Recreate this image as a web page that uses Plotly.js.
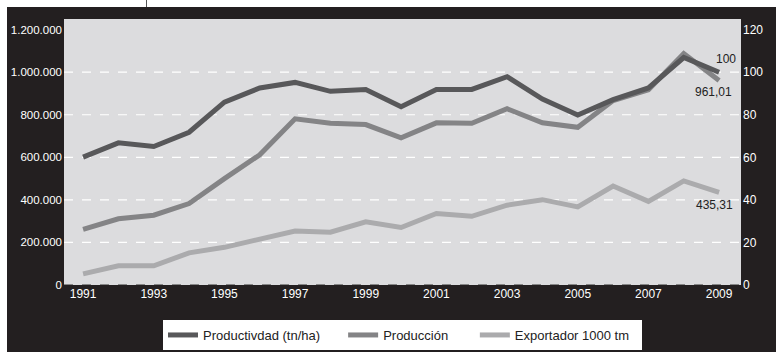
<!DOCTYPE html>
<html><head><meta charset="utf-8">
<script src="https://cdn.plot.ly/plotly-3.0.1.min.js"></script>
<style>
html,body{margin:0;padding:0;background:#fff;width:776px;height:352px;overflow:hidden}
#chart{position:absolute;left:7px;top:7px;width:769px;height:345px}
#mark{position:absolute;left:146px;top:0;width:1px;height:7px;background:#555}
</style></head><body>
<div id="mark"></div><div id="chart"></div>
<script>
const years = [1991,1992,1993,1994,1995,1996,1997,1998,1999,2000,2001,2002,2003,2004,2005,2006,2007,2008,2009];
// Productividad index (right axis)
const productividad = [60.1,66.8,65.1,71.8,85.9,92.6,95.2,91.0,91.9,83.8,91.9,91.9,97.9,87.4,79.9,87.1,92.6,106.9,100];
// Producción (left axis)
const produccion = [261000,311000,328000,383000,500000,612000,781000,760000,754000,692000,762000,760000,828000,762000,741000,867000,917000,1088000,961010];
// Exportador 1000 tm (right axis)
const exportador = [5.2,9.0,9.0,15.1,17.7,21.3,25.4,24.8,29.7,27.0,33.6,32.3,37.5,40.1,36.7,46.5,39.3,48.9,43.531];
const seriesNames = ['Productivdad (tn/ha)','Producción','Exportador 1000 tm'];
const gridVals = [200000,400000,600000,800000,1000000];
const labelTexts = ['100','961,01','435,31'];

const font = '"Liberation Sans", Arial, sans-serif';
const nb = k => '\u00A0'.repeat(k);
const pads = [nb(5), nb(6), nb(2)];

const traces = [
  {x: years, y: productividad, name: seriesNames[0] + pads[0], yaxis: 'y2', mode: 'lines',
   line: {color: '#58585a', width: 5}},
  {x: years, y: produccion, name: seriesNames[1] + pads[1], yaxis: 'y', mode: 'lines',
   line: {color: '#848486', width: 5}},
  {x: years, y: exportador, name: seriesNames[2] + pads[2], yaxis: 'y2', mode: 'lines',
   line: {color: '#ababad', width: 5}}
];

const shapes = gridVals.map(v => ({type: 'line', xref: 'paper', x0: 0, x1: 1, yref: 'y', y0: v, y1: v,
  line: {color: '#ffffff', width: 1.2, dash: 'dash'}, layer: 'below'}));
shapes.push({type: 'line', xref: 'paper', x0: 0, x1: 1, yref: 'y', y0: 0, y1: 0,
  line: {color: '#6a6a6a', width: 1.5, dash: 'dash'}});

const n = years.length - 1;
const annFont = {family: font, size: 12, color: '#222'};
const annotations = [
  {x: years[n], y: productividad[n], yref: 'y2', text: labelTexts[0], showarrow: false, xshift: 7, yshift: 13, font: annFont},
  {x: years[n], y: produccion[n], yref: 'y', text: labelTexts[1], showarrow: false, xshift: -6, yshift: -11, font: annFont},
  {x: years[n], y: exportador[n], yref: 'y2', text: labelTexts[2], showarrow: false, xshift: -5, yshift: -13, font: annFont}
];

const layout = {
  width: 769, height: 345,
  margin: {l: 57, r: 35, t: 12, b: 67, pad: 0, autoexpand: false},
  paper_bgcolor: '#231f20',
  plot_bgcolor: '#dcdcde',
  separators: ',.',
  showlegend: true,
  font: {family: font, size: 12, color: '#ffffff'},
  xaxis: {range: [1990.46, 2009.62], tick0: 1991, dtick: 2, tickformat: 'd', showgrid: false,
    zeroline: false, showline: false, ticks: '', tickfont: {family: font, size: 12, color: '#fff'}},
  yaxis: {range: [0, 1250000], dtick: 200000, tickformat: ',d', showgrid: false, zeroline: false,
    showline: false, ticks: '', tickfont: {family: font, size: 11.5, color: '#fff'}, ticklabelstandoff: 1},
  yaxis2: {range: [0, 125], dtick: 20, overlaying: 'y', side: 'right', showgrid: false, zeroline: false,
    showline: false, ticks: '', tickfont: {family: font, size: 12, color: '#fff'}, ticklabelstandoff: 1},
  legend: {orientation: 'h', x: 0.5, xanchor: 'center', y: -0.1316, yanchor: 'top', bgcolor: '#ffffff',
    font: {family: font, size: 13, color: '#222'}, itemwidth: 30, traceorder: 'normal'},
  shapes: shapes,
  annotations: annotations
};

Plotly.newPlot('chart', traces, layout, {displayModeBar: false, staticPlot: true});
</script>
</body></html>
